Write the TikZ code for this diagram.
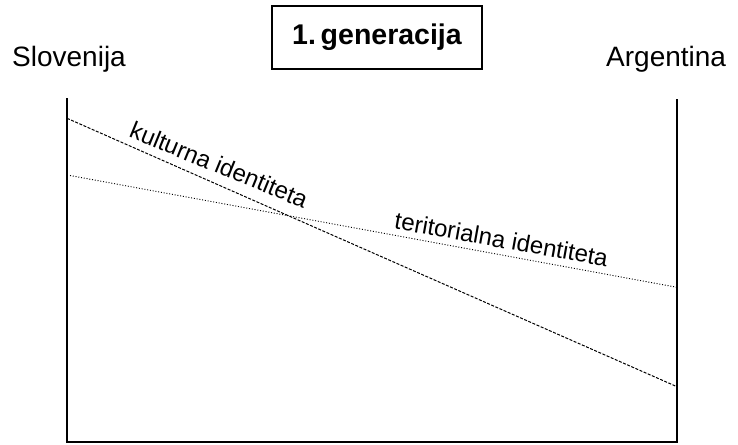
\documentclass[tikz,border=0pt]{standalone}
\usepackage{fontspec}
\setmainfont{Liberation Sans}
\begin{document}
\begin{tikzpicture}[x=1pt,y=-1pt,
  frame/.style={line width=1.7pt, line cap=butt},
  cultline/.style={line width=1pt, dash pattern=on 3pt off 1.5pt},
  terline/.style={line width=0.9pt, dash pattern=on 1pt off 1.8pt},
  bigtext/.style={inner sep=0pt, font=\fontsize{28}{30}\selectfont},
  linelabel/.style={inner sep=0pt, font=\fontsize{24}{26}\selectfont, anchor=base west}]
\useasboundingbox (0,0) rectangle (738,444);
% titles
\node[bigtext, anchor=base west] (slo) at (12,66.7) {Slovenija};
\node[bigtext, anchor=base west] (arg) at (606,66.7) {Argentina};
\node[draw, line width=1.3pt, minimum width=210pt, minimum height=63pt, inner sep=0pt,
      font=\bfseries\fontsize{28.5}{30}\selectfont] (gen) at (377,37.5) {1.\,generacija};
% frame
\coordinate (lt) at (67,98);
\coordinate (lb) at (67,442);
\coordinate (rt) at (677,99);
\coordinate (rb) at (677,442);
\draw[frame] (lt) -- (lb) -- (rb) -- (rt);
% lines
\coordinate (k0) at (67,118.3);
\coordinate (k1) at (677,386.7);
\coordinate (t0) at (70,175.5);
\coordinate (t1) at (677,287.3);
\draw[cultline] (k0) -- (k1);
\draw[terline] (t0) -- (t1);
% labels
\node[linelabel, rotate=-22.3] (klab) at (128,136.7) {kulturna identiteta};
\node[linelabel, rotate=-10.2] (tlab) at (393.5,228.5) {teritorialna identiteta};
\end{tikzpicture}
\end{document}
